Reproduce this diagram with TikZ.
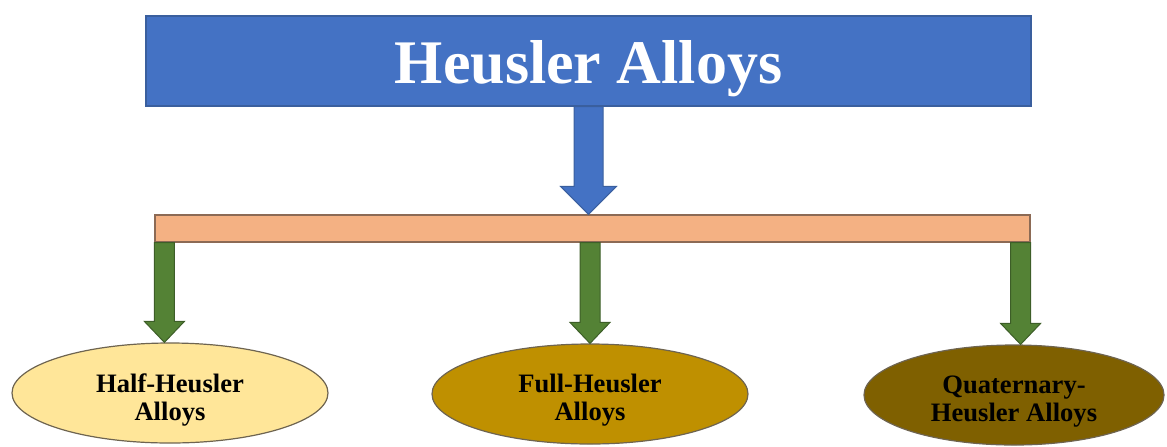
\documentclass[tikz,border=0pt]{standalone}
\usepackage{fontspec}
\setmainfont{Liberation Serif}
\usetikzlibrary{calc,shapes.geometric}
\definecolor{hblue}{HTML}{4472C4}
\definecolor{hblueedge}{HTML}{3A5F9E}
\definecolor{horange}{HTML}{F4B183}
\definecolor{horangeedge}{HTML}{8C6A55}
\definecolor{hgreen}{HTML}{548235}
\definecolor{hgreenedge}{HTML}{3D5E28}
\definecolor{hlight}{HTML}{FFE699}
\definecolor{hgold}{HTML}{BF9000}
\definecolor{hbrown}{HTML}{7F6000}
\definecolor{hedge}{HTML}{6E6450}
\newcommand\lowered[2]{\raisebox{-#1}[0pt][0pt]{#2}}
\tikzset{
  titlebox/.style={draw=hblueedge, fill=hblue, line width=0.6pt, minimum width=442.5pt, minimum height=45pt, inner sep=0pt,
    text=white, font=\fontsize{31}{34}\selectfont\bfseries},
  barbox/.style={draw=horangeedge, fill=horange, line width=0.6pt, minimum width=437.5pt, minimum height=13.5pt, inner sep=0pt},
  leaf/.style={ellipse, draw=hedge, line width=0.6pt, inner sep=0pt, minimum width=158pt, minimum height=50pt,
    align=center, font=\fontsize{13.3}{14}\selectfont\bfseries, text=black},
  bluearrow/.style={draw=hblueedge, fill=hblue, line width=0.5pt, line join=miter},
  greenarrow/.style={draw=hgreenedge, fill=hgreen, line width=0.5pt, line join=miter}
}
% #1 style, #2 start, #3 tip, #4 half shaft, #5 half head, #6 head length
\newcommand\fatarrow[6]{%
  \draw[#1] ($(#2)+(-#4,0)$) -- ($(#3)+(-#4,-#6)$) -- ($(#3)+(-#5,-#6)$) -- (#3)
    -- ($(#3)+(#5,-#6)$) -- ($(#3)+(#4,-#6)$) -- ($(#2)+(#4,0)$) -- cycle;}
\begin{document}
\begin{tikzpicture}[x=0.5pt,y=-0.5pt]
\useasboundingbox (0,0) rectangle (1167,446);
\node[titlebox] (top) at (588.5,61) {\lowered{11pt}{Heusler Alloys}};
\node[barbox] (bar) at (592.5,228.5) {};
\node[leaf, fill=hlight] (half) at (170,393) {\lowered{6.5pt}{Half-Heusler}\\\lowered{6.5pt}{Alloys}};
\node[leaf, fill=hgold] (full) at (590,394) {\lowered{6pt}{Full-Heusler}\\\lowered{6pt}{Alloys}};
\node[leaf, fill=hbrown, minimum width=150pt] (quat) at (1014,395) {\lowered{6pt}{Quaternary-}\\\lowered{6pt}{Heusler Alloys}};
% blue arrow
\coordinate (bs) at (top.south);
\coordinate (bt) at (bar.north -| top.south);
\fatarrow{bluearrow}{bs}{bt}{14.5}{28}{28}
% green arrows
\coordinate (g1s) at ($(bar.south west)+(10,0)$);
\coordinate (g1t) at (g1s |- half.north);
\coordinate (g2s) at (bar.south -| full.north);
\coordinate (g2t) at (full.north);
\coordinate (g3s) at ($(bar.south east)+(-10,0)$);
\coordinate (g3t) at (g3s |- quat.north);
\fatarrow{greenarrow}{g1s}{g1t}{10}{20}{21}
\fatarrow{greenarrow}{g2s}{g2t}{10}{20}{21}
\fatarrow{greenarrow}{g3s}{g3t}{10}{20}{21}
\end{tikzpicture}
\end{document}
